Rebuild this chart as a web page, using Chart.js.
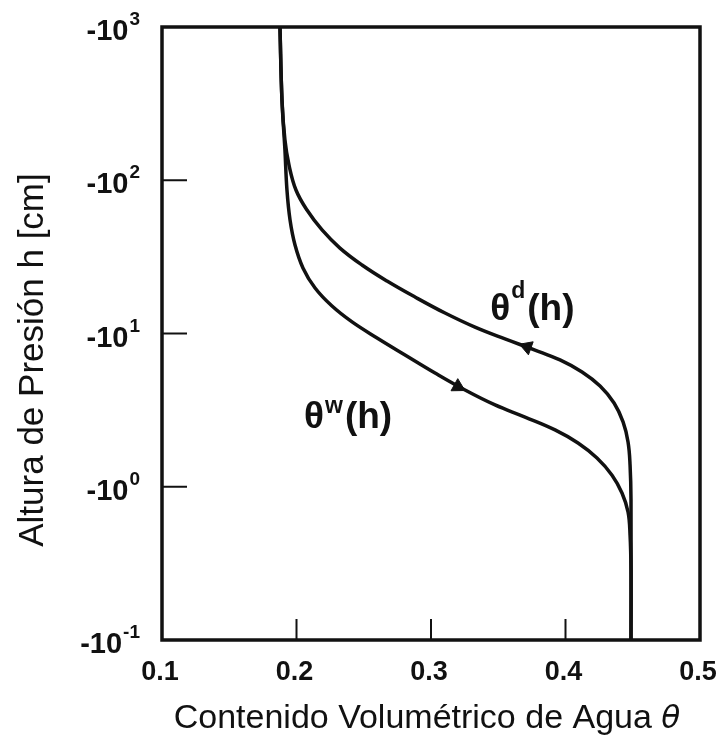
<!DOCTYPE html>
<html>
<head>
<meta charset="utf-8">
<script src="https://cdn.jsdelivr.net/npm/chart.js@4.4.1/dist/chart.umd.min.js"></script>
<style>
  html, body { margin: 0; padding: 0; background: #fff; }
  #wrap { width: 721px; height: 737px; }
</style>
</head>
<body>
<div id="wrap"><canvas id="curvaRetencion"></canvas></div>
<script>
// Ejes
const thetaTicks = [0.1, 0.2, 0.3, 0.4, 0.5];
const hExponents = [-1, 0, 1, 2, 3];

// Curva de secado θd(h): contenido de agua y altura de presión (cm)
const dryingTheta = [0.1877, 0.1892, 0.1914, 0.1944, 0.1996, 0.2078, 0.2190, 0.2323, 0.2487, 0.2673, 0.2881, 0.3104, 0.3327, 0.3550, 0.3773, 0.3959, 0.4123, 0.4257, 0.4361, 0.4428, 0.4465, 0.4480, 0.4487, 0.4487];
const dryingH = [-1000, -334, -183, -125.8, -86.4, -63.9, -47.4, -36.1, -28.0, -22.0, -17.3, -13.6, -11.0, -9.21, -7.80, -6.72, -5.61, -4.54, -3.52, -2.65, -1.96, -1.39, -0.82, -0.1];

// Curva de humedecimiento θw(h)
const wettingTheta = [0.1877, 0.1892, 0.1914, 0.1929, 0.1952, 0.1989, 0.2048, 0.2138, 0.2264, 0.2413, 0.2599, 0.2807, 0.3030, 0.3253, 0.3476, 0.3699, 0.3922, 0.4093, 0.4234, 0.4346, 0.4420, 0.4465, 0.4480, 0.4487, 0.4487];
const wettingH = [-1000, -334, -157.6, -86.4, -55.0, -37.8, -26.8, -19.8, -15.1, -11.9, -9.35, -7.24, -5.52, -4.28, -3.42, -2.85, -2.35, -1.93, -1.54, -1.19, -0.91, -0.684, -0.484, -0.286, -0.1];

// Flechas de sentido sobre cada curva
const arrowTheta = [0.3714, 0.320];
const arrowH = [-8.17, -4.5];

const toPoints = (xs, hs) => xs.map((x, i) => ({ x: x, y: -hs[i] }));

const INK = "#111";
const SANS = "'Liberation Sans', Arial, sans-serif";

// Marco, marcas hacia dentro, etiquetas con superíndice y títulos
const marco = {
    id: "marco",
    afterDatasetsDraw(chart) {
        const ctx = chart.ctx;
        const a = chart.chartArea;
        const sx = chart.scales.x;
        const sy = chart.scales.y;
        ctx.save();
        ctx.strokeStyle = INK;
        ctx.fillStyle = INK;

        ctx.lineWidth = 3.5;
        ctx.strokeRect(a.left, a.top, a.right - a.left, a.bottom - a.top);

        // marcas
        ctx.lineWidth = 2;
        thetaTicks.forEach(t => {
            const x = sx.getPixelForValue(t);
            ctx.beginPath();
            ctx.moveTo(x, a.bottom);
            ctx.lineTo(x, a.bottom - 21);
            ctx.stroke();
        });
        hExponents.forEach(e => {
            const y = sy.getPixelForValue(Math.pow(10, e));
            ctx.beginPath();
            ctx.moveTo(a.left, y);
            ctx.lineTo(a.left + 25, y);
            ctx.stroke();
        });

        // etiquetas eje x
        ctx.font = "bold 27px " + SANS;
        ctx.textAlign = "center";
        ctx.textBaseline = "alphabetic";
        thetaTicks.forEach(t => {
            ctx.fillText(t.toFixed(1), sx.getPixelForValue(t) - 2, a.bottom + 40);
        });

        // etiquetas eje y: -10^n
        ctx.textAlign = "left";
        hExponents.forEach(e => {
            const y = sy.getPixelForValue(Math.pow(10, e));
            const base = "-10";
            const sup = String(e);
            ctx.font = "bold 29px " + SANS;
            const wb = ctx.measureText(base).width;
            ctx.font = "bold 19px " + SANS;
            const ws = ctx.measureText(sup).width;
            const x0 = a.left - 23 - wb - ws;
            ctx.font = "bold 29px " + SANS;
            ctx.fillText(base, x0, y + 13);
            ctx.font = "bold 19px " + SANS;
            ctx.fillText(sup, x0 + wb + 1, y - 2);
        });

        // título eje x (θ en cursiva)
        const t1 = "Contenido Volumétrico de Agua ";
        ctx.font = "34px " + SANS;
        const w1 = ctx.measureText(t1).width;
        ctx.font = "italic 31px 'DejaVu Sans', sans-serif";
        const w2 = ctx.measureText("θ").width;
        const xStart = 427 - (w1 + w2) / 2;
        ctx.font = "34px " + SANS;
        ctx.fillText(t1, xStart, 728);
        ctx.font = "italic 31px 'DejaVu Sans', sans-serif";
        ctx.fillText("θ", xStart + w1, 728);

        // título eje y
        ctx.save();
        ctx.translate(43, 360);
        ctx.rotate(-Math.PI / 2);
        ctx.textAlign = "center";
        ctx.font = "35px " + SANS;
        ctx.fillText("Altura de Presión h [cm]", 0, 0);
        ctx.restore();

        // nombres de las curvas
        const rotulo = (theta, h, sup, raise) => {
            const x = sx.getPixelForValue(theta);
            const y = sy.getPixelForValue(-h);
            ctx.textAlign = "left";
            ctx.font = "bold 37px " + SANS;
            ctx.fillText("θ", x, y);
            const wt = ctx.measureText("θ").width;
            ctx.font = "bold 23px " + SANS;
            ctx.fillText(sup, x + wt + 1, y - raise);
            const wsup = ctx.measureText(sup).width;
            ctx.font = "bold 37px " + SANS;
            ctx.fillText("(h)", x + wt + wsup + 3, y);
        };
        rotulo(0.344, -12.2, "d", 22);
        rotulo(0.2056, -2.42, "w", 15);

        ctx.restore();
    }
};

new Chart(document.getElementById("curvaRetencion"), {
    type: "scatter",
    data: {
        datasets: [
            {
                label: "θd(h)",
                data: toPoints(dryingTheta, dryingH),
                showLine: true,
                borderColor: INK,
                borderWidth: 3.5,
                pointRadius: 0,
                tension: 0.4
            },
            {
                label: "θw(h)",
                data: toPoints(wettingTheta, wettingH),
                showLine: true,
                borderColor: INK,
                borderWidth: 3.5,
                pointRadius: 0,
                tension: 0.4
            },
            {
                label: "sentido",
                data: toPoints(arrowTheta, arrowH),
                showLine: false,
                pointStyle: "triangle",
                pointRadius: 8,
                pointRotation: [-70, 119],
                backgroundColor: INK,
                borderColor: INK,
                borderWidth: 1
            }
        ]
    },
    options: {
        responsive: true,
        maintainAspectRatio: false,
        animation: false,
        layout: { padding: { left: 162, top: 27, right: 21, bottom: 97 } },
        plugins: {
            legend: { display: false },
            tooltip: { enabled: false }
        },
        scales: {
            x: { type: "linear", min: 0.1, max: 0.5, display: false },
            y: { type: "logarithmic", min: 0.1, max: 1000, display: false }
        }
    },
    plugins: [marco]
});
</script>
</body>
</html>
